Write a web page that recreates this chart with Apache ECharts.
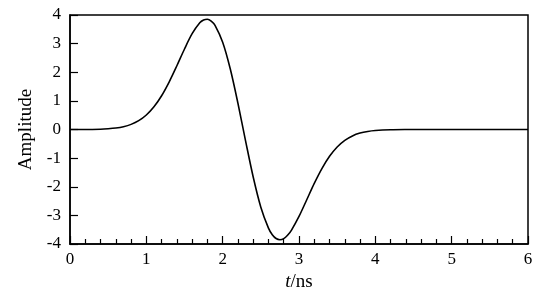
<!DOCTYPE html>
<html><head><meta charset="utf-8">
<script src="https://cdn.jsdelivr.net/npm/echarts@6/dist/echarts.min.js"></script>
<style>html,body{margin:0;padding:0;background:#fff}#c{width:541px;height:293px}</style>
</head><body><div id="c"></div>
<script>
var times = [0,0.2,0.4,0.5,0.6,0.7,0.8,0.9,1.0,1.1,1.2,1.3,1.4,1.5,1.6,1.7,1.75,1.8,1.85,1.9,2.0,2.1,2.2,2.3,2.4,2.5,2.6,2.65,2.7,2.75,2.8,2.85,2.9,3.0,3.1,3.2,3.3,3.4,3.5,3.6,3.7,3.8,3.9,4.0,4.2,4.4,4.6,5.0,5.5,6.0];
var amps = [0,0,0.01,0.026,0.052,0.099,0.179,0.308,0.507,0.793,1.179,1.666,2.226,2.813,3.346,3.726,3.825,3.850,3.786,3.636,3.049,2.112,0.916,-0.396,-1.658,-2.713,-3.447,-3.676,-3.808,-3.851,-3.812,-3.697,-3.522,-3.038,-2.463,-1.882,-1.364,-0.936,-0.610,-0.378,-0.224,-0.126,-0.068,-0.035,-0.008,-0.001,0,0,0,0];
var xTicks = [0,1,2,3,4,5,6];
var yTicks = [-4,-3,-2,-1,0,1,2,3,4];
var pts = times.map(function(t,i){return [t, amps[i]];});
var chart = echarts.init(document.getElementById('c'));
var font = 'Liberation Serif';
chart.setOption({
  animation:false,
  grid:{left:70,right:13,top:15,bottom:49,show:true,borderColor:'#000',borderWidth:1.5,backgroundColor:'transparent',containLabel:false,outerBoundsMode:'none'},
  xAxis:{type:'value',min:xTicks[0],max:xTicks[xTicks.length-1],interval:1,
    axisLine:{onZero:false,lineStyle:{color:'#000',width:1.5}},
    axisTick:{inside:true,length:8,lineStyle:{color:'#000',width:1.2}},
    minorTick:{show:true,splitNumber:5,length:5,lineStyle:{color:'#000',width:1.2}},
    splitLine:{show:false},
    axisLabel:{color:'#000',fontFamily:font,fontSize:17,margin:7},
    name:'{i|t}/ns',nameLocation:'middle',nameGap:25,
    nameTextStyle:{color:'#000',fontFamily:font,fontSize:19,rich:{i:{fontStyle:'italic',fontFamily:font,fontSize:19,color:'#000'}}}
  },
  yAxis:{type:'value',min:yTicks[0],max:yTicks[yTicks.length-1],interval:1,
    axisLine:{onZero:false,lineStyle:{color:'#000',width:1.5}},
    axisTick:{inside:true,length:8,lineStyle:{color:'#000',width:1.2}},
    splitLine:{show:false},
    axisLabel:{color:'#000',fontFamily:font,fontSize:17,margin:9},
    name:'Amplitude',nameLocation:'middle',nameGap:33,
    nameTextStyle:{color:'#000',fontFamily:font,fontSize:19}
  },
  series:[{type:'line',data:pts,smooth:0.3,showSymbol:false,lineStyle:{color:'#000',width:1.6}}]
});
</script></body></html>
